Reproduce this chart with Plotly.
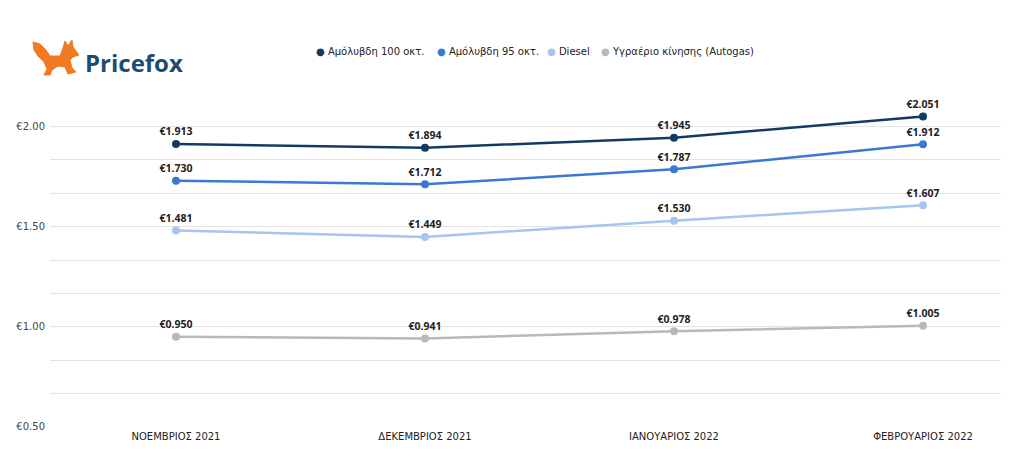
import plotly.graph_objects as go

months = ["ΝΟΕΜΒΡΙΟΣ 2021", "ΔΕΚΕΜΒΡΙΟΣ 2021", "ΙΑΝΟΥΑΡΙΟΣ 2022", "ΦΕΒΡΟΥΑΡΙΟΣ 2022"]
series_names = ["Αμόλυβδη 100 οκτ.", "Αμόλυβδη 95 οκτ.", "Diesel", "Υγραέριο κίνησης (Autogas)"]
unleaded100 = [1.913, 1.894, 1.945, 2.051]
unleaded95 = [1.730, 1.712, 1.787, 1.912]
diesel = [1.481, 1.449, 1.530, 1.607]
autogas = [0.950, 0.941, 0.978, 1.005]
colors = ["#133a63", "#3b78d3", "#a7c4f2", "#b9b9b9"]

y_tick_vals = [0.5, 2/3, 5/6, 1.0, 7/6, 4/3, 1.5, 5/3, 11/6, 2.0, 13/6]
y_tick_text = ["€0.50", "", "", "€1.00", "", "", "€1.50", "", "", "€2.00", ""]

OFF = 8  # page body margin
W, H = 1009 - OFF, 470 - OFF
L, R, T, B = 50 - OFF, 0, 93 - OFF, 43

fig = go.Figure()
xs = list(range(len(months)))
for name, vals, col in zip(series_names, [unleaded100, unleaded95, diesel, autogas], colors):
    fig.add_trace(go.Scatter(
        x=xs, y=vals, name=name, mode="lines+markers+text", showlegend=False,
        line=dict(color=col, width=2.5),
        marker=dict(color=col, size=8),
        texttemplate="€%{y:.3f}", textposition="top center",
        textfont=dict(family="Noto Sans", size=10.5, color="#222222", weight="bold"),
        cliponaxis=False,
    ))

def px(x):
    return (x - OFF - L) / (W - L - R)

def py(y):
    return (H - B - (y - OFF)) / (H - T - B)

# legend drawn as text items (dot + label)
legend_x = [314, 435, 545, 599]
for lx, name, col in zip(legend_x, series_names, colors):
    fig.add_annotation(text=f"<span style='color:{col}'>●</span> {name}",
                       x=px(lx), y=py(51), xref="paper", yref="paper",
                       xanchor="left", yanchor="middle", showarrow=False,
                       font=dict(family="DejaVu Sans", size=10, color="#222222"))

fox = [(33,42),(40,44),(46,50),(50,56),(60,56),(63,48),(65,41),(68,46),(72,40),(73,47),
       (79,55),(73,57),(70,60),(72,68),(76,72),(68,74),(65,67),(58,66),(52,70),(50,75),
       (44,75),(47,69),(44,62),(38,56),(34,50)]
path = "M " + " L ".join(f"{px(a):.4f},{py(b):.4f}" for a, b in fox) + " Z"
fig.add_shape(type="path", path=path, xref="paper", yref="paper",
              fillcolor="#f07a22", line=dict(color="#f07a22", width=1))
fig.add_annotation(text="<b>Pricefox</b>", x=px(83), y=py(62), xref="paper", yref="paper",
                   xanchor="left", yanchor="middle", showarrow=False,
                   font=dict(family="Open Sans", size=24, color="#1c4c70"))

fig.update_layout(
    width=W, height=H,
    margin=dict(l=L, r=R, t=T, b=B),
    paper_bgcolor="white", plot_bgcolor="white",
    font=dict(family="DejaVu Sans", size=10, color="#444444"),
    showlegend=False,
    xaxis=dict(range=[-(176 - 50) / 249, 3 + (1009 - 923) / 249],
               tickvals=xs, ticktext=months, showgrid=False, zeroline=False,
               showline=False, ticks="", ticklabelstandoff=2,
               tickfont=dict(family="DejaVu Sans", size=10, color="#222222")),
    yaxis=dict(range=[0.499, 2.168], tickvals=y_tick_vals, ticktext=y_tick_text,
               showgrid=True, gridcolor="#e3e3e3", gridwidth=1, zeroline=False,
               showline=False, ticks="", ticklabelstandoff=4,
               tickfont=dict(family="DejaVu Sans", size=10, color="#444444")),
)

fig.write_html("out.html")
